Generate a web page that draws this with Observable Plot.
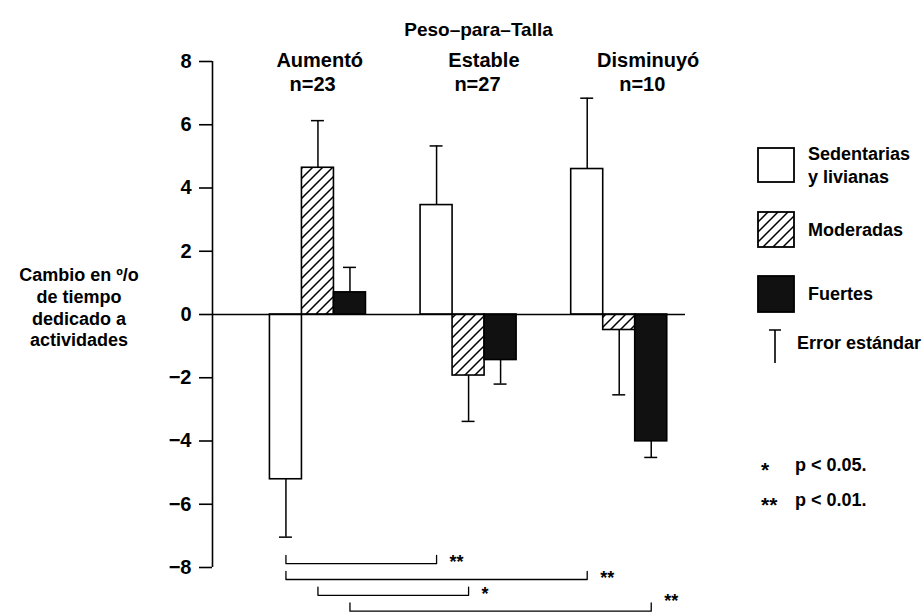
<!DOCTYPE html>
<html><head><meta charset="utf-8">
<script src="https://cdn.jsdelivr.net/npm/d3@7"></script>
<script src="https://cdn.jsdelivr.net/npm/@observablehq/plot@0.6"></script>
<style>
html,body{margin:0;padding:0;background:#fff;}
#chart{position:relative;width:924px;height:612px;}
#chart svg g[aria-label="y-axis tick"] path{stroke-width:1.6;}
</style></head><body><div id="chart"></div>
<script>
// ---------- data ----------
const title = "Peso–para–Talla";
const groups = ["Aumentó", "Estable", "Disminuyó"];
const groupN = ["n=23", "n=27", "n=10"];
const series = ["Sedentarias y livianas", "Moderadas", "Fuertes"];
const sedentarias = [-5.21, 3.46, 4.60];
const moderadas = [4.64, -1.93, -0.49];
const fuertes = [0.70, -1.44, -4.01];
const sedentariasSE = [1.83, 1.87, 2.24];
const moderadasSE = [1.49, 1.45, 2.05];
const fuertesSE = [0.79, 0.76, 0.51];
const yTicks = [-8, -6, -4, -2, 0, 2, 4, 6, 8];
const yTitle = ["Cambio en º/o", "de tiempo", "dedicado a", "actividades"];
// significance brackets between bars: [group index, series index]
const bracketFrom = [[0, 0], [0, 0], [0, 1], [0, 2]];
const bracketTo = [[1, 0], [2, 0], [1, 1], [2, 2]];
const bracketSig = ["**", "**", "*", "**"];
const pLegendMark = ["*", "**"];
const pLegendText = ["p < 0.05.", "p < 0.01."];
const legendLabels = [["Sedentarias", "y livianas"], ["Moderadas"], ["Fuertes"]];
const errorLabel = "Error estándar";

// ---------- layout ----------
const W = 924, H = 612;
const BAR = 0.2125;          // bar width in group units
const CAP = 0.043;           // half cap width
const xDomain = [-0.7, 2.44];
const LEVEL0 = -7.88, LEVELSTEP = 0.5, TICK = 0.26, STAR_FLOOR = -8.92;
const barX = (g, s) => g + (s - 1) * BAR;

const values = [sedentarias, moderadas, fuertes];
const ses = [sedentariasSE, moderadasSE, fuertesSE];
const rows = [];
groups.forEach((g, gi) => series.forEach((s, si) => {
  const v = values[si][gi], se = ses[si][gi];
  rows.push({group: g, gi, series: s, si, value: v, cx: barX(gi, si),
             end: v + Math.sign(v) * se});
}));

const brackets = bracketFrom.map((f, i) => ({
  k: i, x1: barX(f[0], f[1]), x2: barX(bracketTo[i][0], bracketTo[i][1]),
  yb: LEVEL0 - LEVELSTEP * i, sig: bracketSig[i]
}));
const bracketPts = brackets.flatMap(b => [
  {k: b.k, x: b.x1, y: b.yb + TICK}, {k: b.k, x: b.x1, y: b.yb},
  {k: b.k, x: b.x2, y: b.yb}, {k: b.k, x: b.x2, y: b.yb + TICK}
]);

const fills = ["white", "url(#hatch)", "#111"];
const barMarks = series.map((s, si) => Plot.rectY(rows.filter(d => d.si === si), {
  x1: d => d.cx - BAR / 2, x2: d => d.cx + BAR / 2, y1: 0, y2: "value",
  fill: fills[si], stroke: "black", strokeWidth: 1.6
}));

const chart = Plot.plot({
  width: W, height: H,
  marginLeft: 212, marginRight: W - 685, marginTop: 0, marginBottom: 0,
  style: {fontFamily: "'Liberation Sans', Arial, sans-serif", fontSize: "20px",
          fontWeight: "bold", background: "white", color: "black"},
  x: {domain: xDomain, axis: null},
  y: {domain: [-8, 8], range: [567, 61], ticks: yTicks,
      tickSize: 13, tickPadding: 8, label: null,
      tickFormat: d => d < 0 ? "−" + Math.abs(d) : String(d)},
  marks: [
    ...barMarks,
    Plot.ruleX(rows, {x: "cx", y1: "value", y2: "end", strokeWidth: 1.5}),
    Plot.ruleY(rows, {y: "end", x1: d => d.cx - CAP, x2: d => d.cx + CAP, strokeWidth: 1.5}),
    Plot.ruleY([0], {strokeWidth: 1.6}),
    Plot.ruleX([xDomain[0]], {y1: -8, y2: 8, strokeWidth: 1.6}),
    Plot.line(bracketPts, {x: "x", y: "y", z: "k", strokeWidth: 1.3}),
    Plot.text(brackets, {x: "x2", y: d => Math.max(d.yb + 0.19, STAR_FLOOR), text: "sig",
                         dx: 13, dy: 5, textAnchor: "start", fontSize: 18}),
    Plot.text(groups, {x: (d, i) => i * 1.09 + 0.012, frameAnchor: "top", dy: 52, fontSize: 20}),
    Plot.text(groupN, {x: (d, i) => i * 1.094 - 0.035, frameAnchor: "top", dy: 76, fontSize: 20}),
    Plot.text([title], {frameAnchor: "top", dx: 29.5, dy: 22, fontSize: 19}),
    Plot.text([yTitle.join("\n")], {frameAnchor: "left", dx: -133.5, lineHeight: 1.22,
                                    textAnchor: "middle", fontSize: 18})
  ]
});
document.getElementById("chart").appendChild(chart);

// ---------- pattern + legend ----------
const svg = d3.select(chart.tagName.toLowerCase() === "svg" ? chart : chart.querySelector("svg"));
const defs = svg.insert("defs", ":first-child");
const pat = defs.append("pattern").attr("id", "hatch").attr("patternUnits", "userSpaceOnUse")
  .attr("width", 10).attr("height", 10);
pat.append("rect").attr("width", 10).attr("height", 10).attr("fill", "white");
pat.append("path").attr("d", "M-2,2 L2,-2 M0,10 L10,0 M8,12 L12,8")
  .attr("stroke", "black").attr("stroke-width", 1.5);

const lg = svg.append("g").attr("font-size", 18).attr("font-weight", "bold")
  .attr("text-anchor", "start")
  .attr("font-family", "'Liberation Sans', Arial, sans-serif");
const boxes = [{y: 148, h: 34}, {y: 212, h: 35}, {y: 276, h: 36}];
boxes.forEach((b, i) => {
  lg.append("rect").attr("x", 758).attr("y", b.y).attr("width", 36).attr("height", b.h)
    .attr("fill", fills[i]).attr("stroke", "black").attr("stroke-width", 1.8);
  const lines = legendLabels[i];
  const cy = b.y + b.h / 2;
  lines.forEach((t, j) => {
    const yy = lines.length === 1 ? cy : cy - 11 + j * 23;
    lg.append("text").attr("x", 808).attr("y", yy).attr("dy", "0.35em")
      .attr("text-anchor", "start").text(t);
  });
});
lg.append("path").attr("d", "M769,330 H781 M775,330 V363").attr("stroke", "black")
  .attr("stroke-width", 1.6).attr("fill", "none");
lg.append("text").attr("x", 797).attr("y", 343).attr("dy", "0.35em")
  .attr("text-anchor", "start").text(errorLabel);
pLegendMark.forEach((m, i) => {
  const yy = 465 + i * 35;
  lg.append("text").attr("x", 761).attr("y", yy).attr("dy", "0.55em").attr("font-size", 21)
    .attr("text-anchor", "start").text(m);
  lg.append("text").attr("x", 795).attr("y", yy).attr("dy", "0.35em")
    .attr("text-anchor", "start").text(pLegendText[i]);
});
</script></body></html>
